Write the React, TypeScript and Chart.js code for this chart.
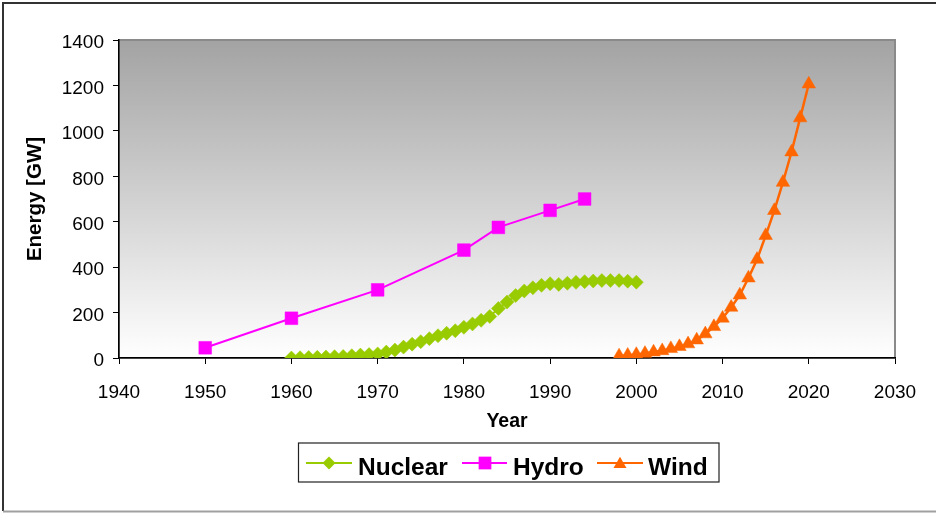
import React, { useEffect, useRef } from 'react';
import { Chart, registerables } from 'chart.js';

Chart.register(...registerables);

const FONT = '"Liberation Sans", Arial, Helvetica, sans-serif';

// ---- Data ----
const nuclearYears = [1960, 1961, 1962, 1963, 1964, 1965, 1966, 1967, 1968, 1969,
  1970, 1971, 1972, 1973, 1974, 1975, 1976, 1977, 1978, 1979,
  1980, 1981, 1982, 1983, 1984, 1985, 1986, 1987, 1988, 1989,
  1990, 1991, 1992, 1993, 1994, 1995, 1996, 1997, 1998, 1999, 2000];
const nuclearValues = [0, 1, 2, 3, 4, 6, 7, 10, 13, 15,
  18, 26, 35, 48, 61, 72, 85, 98, 109, 120,
  135, 150, 166, 183, 218, 246, 275, 295, 309, 320,
  327, 324, 329, 333, 336, 339, 341, 341, 341, 338, 334];

const hydroYears = [1950, 1960, 1970, 1980, 1984, 1990, 1994];
const hydroValues = [45, 175, 300, 475, 575, 650, 700];

const windYears = [1998, 1999, 2000, 2001, 2002, 2003, 2004, 2005, 2006, 2007, 2008,
  2009, 2010, 2011, 2012, 2013, 2014, 2015, 2016, 2017, 2018, 2019, 2020];
const windValues = [9, 12, 15, 20, 26, 32, 41, 50, 62, 79, 106,
  138, 175, 223, 277, 352, 434, 539, 649, 773, 907, 1057, 1206];

const seriesLabels = ['Nuclear', 'Hydro', 'Wind'];
const seriesColors = ['#99CC00', '#FF00FF', '#FF6600'];
const seriesStyles = ['rectRot', 'rect', 'triangle'];

const xMin = 1940;
const xMax = 2030;
const xStep = 10;
const yMin = 0;
const yMax = 1400;
const yStep = 200;
const xTitle = 'Year';
const yTitle = 'Energy [GW]';

const toPoints = (xs: number[], ys: number[]) => xs.map((x, i) => ({ x, y: ys[i] }));

function drawMarker(ctx: CanvasRenderingContext2D, style: string, x: number, y: number, r: number, color: string) {
  ctx.save();
  ctx.fillStyle = color;
  ctx.beginPath();
  if (style === 'rectRot') {
    ctx.moveTo(x - r, y);
    ctx.lineTo(x, y - r);
    ctx.lineTo(x + r, y);
    ctx.lineTo(x, y + r);
  } else if (style === 'rect') {
    const s = r * Math.SQRT1_2;
    ctx.rect(x - s, y - s, 2 * s, 2 * s);
  } else {
    const h = r * 1.5;
    const w = r * Math.sqrt(3) / 2;
    ctx.moveTo(x, y - h * 0.55);
    ctx.lineTo(x + w, y + h * 0.45);
    ctx.lineTo(x - w, y + h * 0.45);
  }
  ctx.closePath();
  ctx.fill();
  ctx.restore();
}

const backgroundPlugin = {
  id: 'plotBackground',
  beforeDraw(chart: any) {
    const { ctx, chartArea, width, height } = chart;
    ctx.save();
    ctx.fillStyle = '#ffffff';
    ctx.fillRect(0, 0, width, height);
    // outer frame
    ctx.lineWidth = 2;
    ctx.strokeStyle = '#333333';
    ctx.beginPath();
    ctx.moveTo(3, 511);
    ctx.lineTo(3, 3);
    ctx.lineTo(936, 3);
    ctx.stroke();
    ctx.strokeStyle = '#a0a0a0';
    ctx.beginPath();
    ctx.moveTo(3, 511.5);
    ctx.lineTo(936, 511.5);
    ctx.stroke();
    // plot area gradient
    const g = ctx.createLinearGradient(0, chartArea.top, 0, chartArea.bottom);
    g.addColorStop(0, '#a3a3a3');
    g.addColorStop(1, '#ffffff');
    ctx.fillStyle = g;
    ctx.fillRect(chartArea.left, chartArea.top, chartArea.right - chartArea.left, chartArea.bottom - chartArea.top);
    ctx.strokeStyle = '#8a8a8a';
    ctx.lineWidth = 2;
    ctx.strokeRect(chartArea.left, chartArea.top, chartArea.right - chartArea.left, chartArea.bottom - chartArea.top);
    ctx.restore();
  },
};

const legendPlugin = {
  id: 'boxLegend',
  afterDraw(chart: any) {
    const { ctx } = chart;
    const box = { x: 298.5, y: 443, w: 420.5, h: 39 };
    const items = [
      { line0: 306, line1: 352, marker: 329, text: 358, r: 6.5 },
      { line0: 462, line1: 507, marker: 485, text: 513, r: 9 },
      { line0: 597, line1: 643, marker: 620, text: 648, r: 7.5 },
    ];
    const lineY = 463;
    ctx.save();
    ctx.fillStyle = '#ffffff';
    ctx.fillRect(box.x, box.y, box.w, box.h);
    ctx.strokeStyle = '#222222';
    ctx.lineWidth = 1.2;
    ctx.strokeRect(box.x, box.y, box.w, box.h);
    items.forEach((it, i) => {
      ctx.strokeStyle = seriesColors[i];
      ctx.lineWidth = 2;
      ctx.beginPath();
      ctx.moveTo(it.line0, lineY);
      ctx.lineTo(it.line1, lineY);
      ctx.stroke();
      drawMarker(ctx, seriesStyles[i], it.marker, lineY, it.r, seriesColors[i]);
      ctx.fillStyle = '#000000';
      ctx.font = `bold 24.5px ${FONT}`;
      ctx.textBaseline = 'alphabetic';
      ctx.textAlign = 'left';
      ctx.fillText(seriesLabels[i], it.text, 475);
    });
    ctx.restore();
  },
};

export default function App() {
  const canvasRef = useRef<HTMLCanvasElement | null>(null);

  useEffect(() => {
    if (!canvasRef.current) return;
    const radii = [7, 9, 7.8];
    const widths = [2, 2, 2.5];
    const sets = [
      toPoints(nuclearYears, nuclearValues),
      toPoints(hydroYears, hydroValues),
      toPoints(windYears, windValues),
    ];
    const chart = new Chart(canvasRef.current, {
      type: 'line',
      data: {
        datasets: sets.map((data, i) => ({
          label: seriesLabels[i],
          data,
          borderColor: seriesColors[i],
          backgroundColor: seriesColors[i],
          borderWidth: widths[i],
          pointStyle: seriesStyles[i] as any,
          pointRadius: radii[i],
          pointBorderWidth: 0.5,
          pointBorderColor: seriesColors[i],
          pointBackgroundColor: seriesColors[i],
          fill: false,
          tension: 0,
        })),
      },
      options: {
        responsive: false,
        animation: false,
        devicePixelRatio: window.devicePixelRatio || 1,
        layout: { padding: { left: 23, top: 40, right: 41, bottom: 80 } },
        plugins: {
          legend: { display: false },
          tooltip: { enabled: false },
        },
        scales: {
          x: {
            type: 'linear',
            min: xMin,
            max: xMax,
            afterFit: (s: any) => { s.height = 75; },
            ticks: {
              stepSize: xStep,
              padding: 17,
              autoSkip: false,
              maxRotation: 0,
              color: '#000',
              font: { family: FONT, size: 19 },
              callback: (v: any) => String(v),
            },
            grid: { drawOnChartArea: false, drawTicks: true, tickLength: 6, color: '#000', lineWidth: 1 },
            border: { display: true, color: '#000', width: 1.5 },
            title: {
              display: true,
              text: xTitle,
              color: '#000',
              padding: 0,
              font: { family: FONT, size: 19.5, weight: 'bold' },
            },
          },
          y: {
            type: 'linear',
            min: yMin,
            max: yMax,
            afterFit: (s: any) => { s.width = 96; },
            ticks: {
              stepSize: yStep,
              padding: 9,
              labelOffset: 3,
              color: '#000',
              font: { family: FONT, size: 19 },
              callback: (v: any) => String(v),
            },
            grid: { drawOnChartArea: false, drawTicks: true, tickLength: 6, color: '#000', lineWidth: 1 },
            border: { display: true, color: '#000', width: 1.5 },
            title: {
              display: true,
              text: yTitle,
              color: '#000',
              padding: 0,
              font: { family: FONT, size: 20.5, weight: 'bold' },
            },
          },
        },
      },
      plugins: [backgroundPlugin, legendPlugin],
    });
    return () => chart.destroy();
  }, []);

  return (
    <div style={{ position: 'absolute', left: 0, top: 0, width: 936, height: 513 }}>
      <canvas ref={canvasRef} width={936} height={513} style={{ display: 'block', width: 936, height: 513 }} />
    </div>
  );
}
